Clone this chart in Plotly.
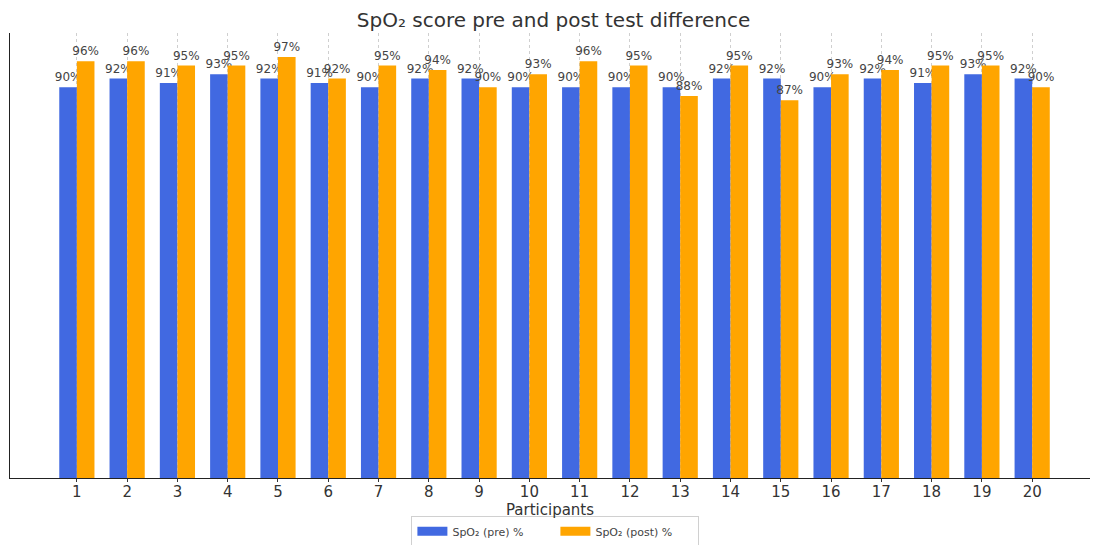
import plotly.graph_objects as go

participants = list(range(1, 21))
spo2_pre = [90, 92, 91, 93, 92, 91, 90, 92, 92, 90, 90, 90, 90, 92, 92, 90, 92, 91, 93, 92]
spo2_post = [96, 96, 95, 95, 97, 92, 95, 94, 90, 93, 96, 95, 88, 95, 87, 93, 94, 95, 95, 90]

series_names = ["SpO₂ (pre) %", "SpO₂ (post) %"]
series_colors = ["#4169E1", "#FFA500"]

FONT = "DejaVu Sans"
TXT = "#333333"

fig = go.Figure()
for vals, name, color in zip([spo2_pre, spo2_post], series_names, series_colors):
    fig.add_trace(go.Bar(
        x=participants, y=vals, name=name, showlegend=False,
        marker=dict(color=color, line=dict(width=0)),
        text=[f"{v}%" for v in vals], textposition="outside",
        textfont=dict(family=FONT, size=12, color="#444444"),
        cliponaxis=False, constraintext="none",
    ))

# wide patch-style legend keys
for name, color in zip(series_names, series_colors):
    fig.add_trace(go.Scatter(
        x=[None], y=[None], mode="lines", name=name,
        line=dict(color=color, width=9),
    ))

fig.update_layout(
    width=1096, height=545,
    margin=dict(l=10, r=6, t=33, b=67, autoexpand=False),
    paper_bgcolor="white", plot_bgcolor="white",
    barmode="group", bargap=0.3, bargroupgap=0,
    font=dict(family=FONT, color=TXT),
    title=dict(text="SpO₂ score pre and post test difference",
               x=0.505, xanchor="center", y=0.963, yanchor="middle",
               font=dict(family=FONT, size=20, color="#333333")),
    legend=dict(orientation="h", x=0.505, xanchor="center", y=-0.085, yanchor="top",
                bordercolor="#d0d0d0", borderwidth=1, bgcolor="white",
                font=dict(family=FONT, size=11, color="#444444"),
                entrywidth=98, tracegroupgap=0),
    showlegend=True,
)
fig.update_xaxes(
    range=[-0.33, 21.15], tickmode="array", tickvals=participants,
    ticktext=[str(p) for p in participants],
    ticks="outside", ticklen=3, tickcolor="#333333",
    ticklabelstandoff=-3,
    tickfont=dict(family=FONT, size=15, color=TXT),
    showline=True, linecolor="#222222", linewidth=1,
    showgrid=True, gridcolor="#cfcfcf", griddash="dot", gridwidth=1,
    zeroline=False,
    title=dict(text="Participants", standoff=0, font=dict(family=FONT, size=15, color=TXT)),
)
fig.update_yaxes(
    range=[0, 102.5], showticklabels=False, ticks="",
    showline=True, linecolor="#222222", linewidth=1,
    showgrid=False, zeroline=False,
)

fig.write_html("out.html")
